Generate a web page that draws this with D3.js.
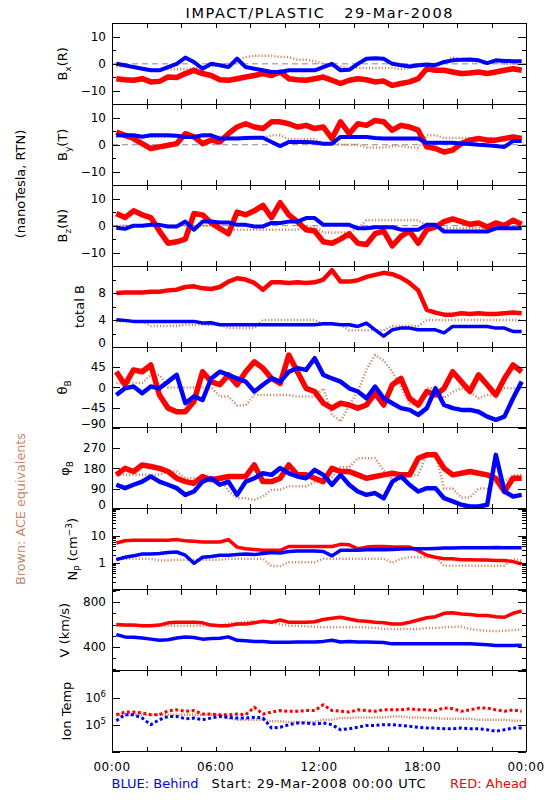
<!DOCTYPE html>
<html><head><meta charset="utf-8">
<script src="https://cdn.jsdelivr.net/npm/d3@7"></script>
<style>
body{margin:0;background:#fff}
svg{display:block}
text{font-family:"DejaVu Sans",sans-serif}
</style>
</head><body>
<svg id="c" width="550" height="800"></svg>
<script>
// ---------- data (30-minute bins) ----------
const hours = [0.25,0.75,1.25,1.75,2.25,2.75,3.25,3.75,4.25,4.75,5.25,5.75,6.25,6.75,7.25,7.75,8.25,8.75,9.25,9.75,10.25,10.75,11.25,11.75,12.25,12.75,13.25,13.75,14.25,14.75,15.25,15.75,16.25,16.75,17.25,17.75,18.25,18.75,19.25,19.75,20.25,20.75,21.25,21.75,22.25,22.75,23.25,23.75];

const xTickHours = [0,6,12,18,24];
const xTickLabels = ["00:00","06:00","12:00","18:00","00:00"];
const xMinorHours = [2,4,8,10,14,16,20,22];

// B_x (R), nT
const bxAhead  = [-5.5,-5.9,-6.1,-5.5,-6.7,-6.5,-4.9,-5.1,-3.6,-2.4,-3.6,-4.3,-5.9,-6.1,-5.5,-4.9,-4.3,-3.6,-4.3,-3,-5.5,-5.9,-6.1,-5.5,-4.9,-6.1,-7.3,-6.1,-5.5,-5.9,-6.7,-6.4,-8,-7.3,-6.7,-5.5,-1.8,-2.4,-2.4,-3,-3.6,-3.4,-3,-3.6,-3,-2.4,-1.8,-2.4];
const bxBehind = [0,-0.5,-1.2,-1.8,-2.4,-2.4,-1.2,0,2.3,0.7,-1.8,0,-0.5,-1.2,1.9,-1.2,-1.8,-2.4,-3,-3,-2.4,-2.4,-2.4,-2.4,-1.2,0,-2.4,-2.2,0,1.9,2.1,1.9,0,-0.5,-1,-0.5,-0.2,-0.5,0.7,1.3,1.5,1.6,1.3,0.3,1.3,1.1,1,1];
const bxACE    = [-1,-1,-1.5,-1.5,-2,-2,-2,-2,-2,-1.5,-1,-1,-0.5,0,1.5,2.5,3,3,3,2.5,2.5,1.5,1.5,1,0,-0.5,-1,-1.5,-1.5,-1.5,-1.5,-1.5,-1.5,-2,-1.5,-1,-0.5,0,0.5,2.5,1.5,1,1,0.5,0.5,0,0,0];
// B_y (T)
const byAhead  = [4.7,3.5,2.3,0.4,-1.4,-0.8,-0.2,0.4,4.1,2.9,0.4,1.7,1,4.1,6.6,7.8,6.6,6,8.5,8.5,7.8,6.6,7.2,6,6.6,2.3,8.5,4.1,7.8,7.2,9,8.5,5.4,7.2,6.6,5.4,-0.8,-1.4,-2.7,-2,0.4,1.7,2.3,1.7,1.7,2.3,2.9,2.3];
const byBehind = [3.5,3.5,3.5,3,3.5,3.5,3.5,3.3,2.9,2.9,3.5,3.5,2.3,2.3,2.3,2.5,2.6,2.6,1,-0.5,1,1,1,0.8,0.4,0.4,2.9,2.9,2.9,2.9,2.5,2.3,2.3,2.3,2.3,2.3,0.7,0.7,0.7,0.7,0.5,0.3,0,-0.2,-0.5,-0.8,1.4,1.4];
const byACE    = [3,3,3,3,3,3,3,3,3,3,3,3,3,3,2.5,2.5,2.5,2.5,3.5,3.5,2,2,2,2,0.5,0.5,0,0,0,-1,-1,-1,-0.5,-0.5,-1,-1,3.5,3.5,2.5,2.5,2.5,2.5,2.5,2.5,2.5,2.5,2.5,2.5];
// B_z (N)
const bzAhead  = [4.5,3,5.5,4,3,-2,-6.5,-6,-5,4.5,4,1,-1,-3,5,4,5.5,7.5,3,8.5,4,1.5,-1.5,-2,-6,-6.5,-5,-3,-6.5,-7,-3,-2,-7.5,-4,-2,-6.5,-1.5,-0.5,1.5,2.5,1.5,0.5,1,-0.5,1,0,2,0.5];
const bzBehind = [-0.8,-1.2,0,0,0.3,0.3,-0.3,-0.3,1.5,-1.5,1.5,1.5,1.2,1.2,0.3,0.3,-0.3,-0.3,1,1,1.5,1.5,2.8,2.8,0.3,0.3,0.3,0.3,-1,-1,-0.6,-0.6,-0.6,-1.5,-1.5,-1.5,0.3,0.3,-2.2,-2.2,-2.2,-2.2,-2.2,-2.2,-1,-1,-1,-1];
const bzACE    = [0,0,0,0,0,0,0,0,0,0,0,0,-1.5,-1.5,-1.5,-1.5,-1.5,-1.5,-1.5,-1.5,-1.5,-1.5,-0.5,-0.5,-2.5,-2.5,-2.5,-2.5,-1,2,2,2,2,2,2,2,0,0,-1,-1,-1,-1,-1,-1,-1,-1,-1,-1];
// total B
const btAhead  = [8,8.1,8.1,8.1,8.2,8.2,8.4,8.5,8.9,9,8.7,8.6,8.9,9.7,10.2,10,9.5,8.5,9.6,9.6,9.5,9.6,9.5,9.6,10,11.4,9.7,9.7,9.9,10.4,10.7,11,10.8,10.3,9.5,8.4,5.5,5.1,4.8,4.8,5,4.9,5,4.9,4.9,5,5.1,5];
const btBehind = [4.05,3.95,3.8,3.8,3.8,3.8,3.8,3.8,3.8,3.8,3.55,3.6,3.3,3.3,3.3,3.3,3.3,3.3,3.3,3.3,3.3,3.3,3.3,3.3,3.45,3.45,3.3,3.3,3.05,3.55,2.55,1.6,2.55,2.8,2.8,2.55,2.55,2.55,2.1,3.05,3.05,3.05,3.05,3.05,2.8,2.8,2.3,2.3];
const btACE    = [3.8,3.8,3.8,3.8,3.1,3.1,3.1,3.1,3.3,3.3,3.3,3.3,3.3,2.8,2.8,2.8,2.8,4,4,4,4,4,4,4,3.3,3.3,3.3,2.5,2.5,2.5,2.5,2.5,3.1,3.1,3.1,3.1,4,4,4,4,4,4,4,4,4,4,4,4];
// theta_B, deg
const thAhead  = [35,6,39,35,50,-17,-46,-54,-54,-31,35,13,6,28,6,35,57,43,20,9,72,35,-2,-9,-35,-46,-35,-39,-46,-39,-13,-39,6,20,-24,-39,-9,-17,-2,35,13,-9,28,6,-17,20,50,35];
const thBehind = [-17,-2,2,-13,2,-2,13,28,-35,-20,-28,20,35,28,20,13,-9,6,20,13,35,43,39,65,28,20,13,-2,-9,-24,2,-24,-35,-46,-50,-61,-46,-2,-39,-46,-50,-50,-54,-65,-72,-65,-24,13];
const thACE    = [10,10,10,10,28,28,0,0,0,0,0,0,-20,-20,-40,-40,-17,-17,-17,-17,-17,-20,-20,-20,-2,-60,-76,-40,-9,40,72,60,35,0,-35,-40,-2,-2,-24,-10,-2,-10,-24,-17,-17,-2,-2,-2];
// phi_B, deg
const phAhead  = [151,180,166,195,188,180,166,136,121,114,144,129,136,144,144,144,195,121,121,136,195,151,151,136,121,180,166,166,151,136,144,151,158,151,151,225,240,240,180,151,158,166,158,151,136,77,136,136];
const phBehind = [107,92,107,121,144,121,107,92,62,77,121,136,107,121,62,121,136,158,151,181,158,144,136,173,151,107,151,107,77,62,70,47,121,144,107,77,92,92,47,33,18,10,10,18,240,77,55,62];
const phACE    = [151,151,151,151,151,151,166,166,136,136,136,136,136,80,47,47,40,55,85,85,100,100,100,120,120,140,185,185,225,225,225,170,130,130,150,150,245,245,90,90,50,50,90,90,120,120,150,150];
// N_p, cm^-3
const npAhead  = [5.4,6.5,6.8,6.8,6.8,6.8,6.8,7.2,6.5,6.2,5.9,5.9,5.9,7.2,3.8,3.3,3.1,2.9,2.9,2.9,4,4,4,4,4,4,4.8,4.6,3.3,3.8,4,4,3.8,3.8,3.8,2.8,1.9,1.6,1.4,1.4,1.3,1.3,1.25,1.25,1.2,1.2,1.1,0.9];
const npBehind = [1.3,1.6,1.8,2.1,2.1,2.2,2.4,2.5,1.9,0.95,1.6,1.7,1.9,1.9,2.0,2.1,2.0,2.2,2.4,2.3,2.6,2.7,2.7,2.7,2.6,1.8,2.9,2.9,2.9,3.0,3.0,3.0,3.1,3.2,3.3,3.3,3.3,3.4,3.5,3.5,3.6,3.6,3.6,3.6,3.7,3.6,3.6,3.6];
const npACE    = [1.4,1.4,1.4,1.4,1.4,1.22,1.22,1.3,1.3,1.3,1.3,1.3,1.3,1.4,1.4,1.4,1.4,1.4,0.75,0.75,1.05,1.05,1.05,1.05,1.4,1.4,1.4,1.4,1.4,1.4,1.4,1.4,1.0,1.4,1.6,1.6,1.6,1.6,0.78,0.78,0.78,0.78,0.78,0.78,0.78,0.78,1.4,1.2];
// V, km/s
const vAhead   = [600,595,595,590,590,595,615,620,620,620,615,595,590,590,605,605,615,630,620,640,620,620,620,625,645,655,665,650,634,630,620,615,605,605,620,640,660,670,700,705,694,690,680,680,670,665,700,720];
const vBehind  = [510,490,486,480,470,460,465,480,490,485,470,475,478,490,460,455,450,450,443,443,443,445,445,445,450,460,445,450,445,445,442,440,428,428,428,430,428,428,428,428,430,428,425,420,413,413,413,415];
const vACE     = [590,590,590,590,590,590,590,590,590,590,590,590,590,610,615,625,630,630,625,600,590,590,585,580,575,575,575,575,575,575,570,560,560,560,560,560,570,570,575,580,580,560,550,545,540,545,550,555];
// Ion temperature, K
const tAhead   = [2.3e5,2.9e5,2.9e5,2.7e5,2.3e5,2.3e5,3.2e5,3.5e5,3.1e5,3.3e5,2.45e5,2.45e5,2.3e5,2.3e5,2.45e5,2.3e5,4.4e5,2.45e5,2.9e5,3.3e5,3.1e5,3.1e5,3.3e5,3.3e5,5.4e5,3.3e5,3.1e5,2.9e5,3.5e5,3.3e5,3.1e5,3.5e5,3.5e5,3.5e5,3.85e5,3.5e5,3.5e5,3.3e5,4.1e5,3.85e5,3.1e5,3.5e5,4.1e5,4.1e5,3.5e5,3.1e5,3.5e5,3.1e5];
const tBehind  = [1.39e5,2.31e5,2.31e5,1.74e5,0.99e5,1.51e5,2.0e5,2.0e5,1.64e5,1.74e5,1.51e5,1.74e5,2.0e5,1.84e5,1.74e5,1.74e5,1.84e5,1.74e5,0.74e5,0.79e5,0.99e5,1.14e5,1.14e5,1.04e5,1.14e5,0.99e5,0.64e5,0.70e5,0.79e5,0.93e5,0.93e5,0.99e5,0.99e5,0.93e5,0.86e5,0.79e5,0.74e5,0.74e5,0.70e5,0.70e5,0.74e5,0.70e5,0.70e5,0.64e5,0.56e5,0.64e5,0.74e5,0.74e5];
const tACE     = [2.3e5,2.3e5,2.3e5,2.3e5,2.3e5,2.3e5,2.3e5,2.3e5,2.3e5,2.3e5,2.3e5,2.3e5,2.3e5,1.74e5,1.51e5,1.51e5,1.51e5,1.51e5,1.31e5,1.31e5,1.24e5,1.24e5,1.24e5,1.24e5,1.51e5,1.51e5,1.74e5,1.74e5,1.84e5,1.84e5,1.84e5,1.84e5,2.0e5,2.0e5,1.84e5,1.84e5,1.74e5,1.74e5,1.64e5,1.64e5,1.64e5,1.64e5,1.51e5,1.51e5,1.51e5,1.51e5,1.39e5,1.39e5];

// ---------- layout & style ----------
const COL = {ace:"#cc8866", ahead:"#ff0000", behind:"#0000ff"};
const L = 112, R = 526, TOP = 23.4, PH = 80.9;
const svg = d3.select("#c");
const x = d3.scaleLinear().domain([0,24]).range([L,R]);
const neg = v => (v < 0 ? "\u2212" + Math.abs(v) : String(v));

// per series style: [width, dasharray] for ACE, Ahead, Behind
const stB   = [[2.5,"1.2,2"],[5.5,null],[4,null]];
const stBt  = [[2.5,"1.2,2"],[4.5,null],[3.5,null]];
const stAng = [[2.5,"1.2,2"],[5.5,null],[4.5,null]];
const stNp  = [[2.5,"1.2,2"],[3.5,null],[3.5,null]];
const stT   = [[2.5,"1.2,1.5"],[3,"3,2.5"],[3,"3,2.5"]];

const panels = [
  {title:[["B"],["x","sub"],["(R)"]], type:"lin", dom:[-15,15], major:[-15,-10,0,10,15], minor:[-5,5], labels:[-10,0,10], zero:true, s:[bxACE,bxAhead,bxBehind], st:stB},
  {title:[["B"],["y","sub"],["(T)"]], type:"lin", dom:[-15,15], major:[-15,-10,0,10,15], minor:[-5,5], labels:[-10,0,10], zero:true, s:[byACE,byAhead,byBehind], st:stB},
  {title:[["B"],["z","sub"],["(N)"]], type:"lin", dom:[-15,15], major:[-15,-10,0,10,15], minor:[-5,5], labels:[-10,0,10], zero:true, s:[bzACE,bzAhead,bzBehind], st:stB},
  {title:[["total B"]], type:"lin", dom:[0,12], major:[0,4,8,12], minor:[2,6,10], labels:[0,4,8], s:[btACE,btAhead,btBehind], st:stBt},
  {title:[["\u03b8"],["B","sub"]], type:"lin", dom:[-90,90], major:[-90,-45,0,45,90], minor:[], labels:[-90,-45,0,45], s:[thACE,thAhead,thBehind], st:stAng},
  {title:[["\u03c6"],["B","sub"]], type:"lin", dom:[0,360], major:[0,90,180,270,360], minor:[], labels:[0,90,180,270], s:[phACE,phAhead,phBehind], st:stAng},
  {title:[["N"],["P","sub"],[" (cm"],["\u22123","sup"],[")"]], type:"log", dom:[0.1,100], major:[0.1,1,10,100], minor:[0.2,0.3,0.4,0.5,0.6,0.7,0.8,0.9,2,3,4,5,6,7,8,9,20,30,40,50,60,70,80,90], labels:[1,10], s:[npACE,npAhead,npBehind], st:stNp},
  {title:[["V (km/s)"]], type:"lin", dom:[190,910], major:[400,800], minor:[200,300,500,600,700,900], labels:[400,800], s:[vACE,vAhead,vBehind], st:stNp},
  {title:[["Ion Temp"]], type:"log", dom:[1e4,1e7], major:[1e4,1e5,1e6,1e7], minor:[], labels:[1e5,1e6], sci:true, s:[tACE,tAhead,tBehind], st:stT}
];

const defs = svg.append("defs");

panels.forEach((p, i) => {
  const top = TOP + i*PH, bot = top + PH;
  const y = (p.type === "log" ? d3.scaleLog() : d3.scaleLinear()).domain(p.dom).range([bot, top]);
  const g = svg.append("g");

  defs.append("clipPath").attr("id","clip"+i)
    .append("rect").attr("x",L).attr("y",top).attr("width",R-L).attr("height",PH);

  const plot = g.append("g").attr("clip-path","url(#clip"+i+")");
  if (p.zero) {
    plot.append("line").attr("x1",L).attr("x2",R).attr("y1",y(0)).attr("y2",y(0))
      .attr("stroke","#888").attr("stroke-width",1).attr("stroke-dasharray","6,4");
  }
  const cols = [COL.ace, COL.ahead, COL.behind];
  p.s.forEach((vals, k) => {
    const pts = hours.map((h, j) => [h, vals[j]]);
    const line = d3.line().x(d => x(d[0])).y(d => y(d[1]));
    plot.append("path").attr("d", line(pts)).attr("fill","none")
      .attr("stroke", cols[k]).attr("stroke-width", p.st[k][0])
      .attr("stroke-linejoin","round")
      .attr("stroke-dasharray", p.st[k][1]);
  });

  // axes ticks (inward)
  const ax = g.append("g").attr("shape-rendering","crispEdges");
  const addAxis = (axis, tx, ty) => {
    const a = ax.append("g").attr("transform",`translate(${tx},${ty})`).call(axis);
    a.select(".domain").remove();
    a.selectAll("text").remove();
    a.selectAll("line").attr("stroke","#000");
  };
  addAxis(d3.axisLeft(y).tickValues(p.major).tickSize(-8).tickFormat(""), L, 0);
  addAxis(d3.axisRight(y).tickValues(p.major).tickSize(-8).tickFormat(""), R, 0);
  if (p.minor.length) {
    addAxis(d3.axisLeft(y).tickValues(p.minor).tickSize(-4).tickFormat(""), L, 0);
    addAxis(d3.axisRight(y).tickValues(p.minor).tickSize(-4).tickFormat(""), R, 0);
  }
  const xt = xTickHours.concat(xMinorHours);
  addAxis(d3.axisTop(x).tickValues(xt).tickSize(-5).tickFormat(""), 0, top);
  addAxis(d3.axisBottom(x).tickValues(xt).tickSize(-5).tickFormat(""), 0, bot);

  g.append("rect").attr("x",L).attr("y",top).attr("width",R-L).attr("height",PH)
    .attr("fill","none").attr("stroke","#000").attr("stroke-width",1).attr("shape-rendering","crispEdges");

  // tick labels
  let maxW = 0;
  p.labels.forEach(v => {
    const yy = Math.max(Math.min(y(v), bot - 4), top + 4);
    const t = g.append("text").attr("x", L - 6).attr("y", yy).attr("dy","0.35em")
      .attr("text-anchor","end").attr("font-size",12);
    if (p.sci) {
      t.append("tspan").text("10");
      t.append("tspan").text(String(Math.round(Math.log10(v)))).attr("font-size",8.5).attr("dy",-5);
    } else {
      t.text(neg(v));
    }
    maxW = Math.max(maxW, t.node().getBBox().width);
  });

  // y title (rotated)
  const bx = L - 6 - maxW - 14, by = (top + bot) / 2;
  const tt = g.append("text").attr("transform",`translate(${bx},${by}) rotate(-90)`)
    .attr("text-anchor","middle").attr("font-size",13);
  let shift = 0;
  p.title.forEach(([s, mode]) => {
    const sp = tt.append("tspan").text(s).style("white-space","pre");
    let target = mode === "sub" ? 4 : mode === "sup" ? -5 : 0;
    if (target !== shift) { sp.attr("dy", target - shift); shift = target; }
    if (mode) sp.attr("font-size", 9);
  });
});

// x tick labels
const lastBot = TOP + 9*PH;
xTickHours.forEach((h, i) => {
  svg.append("text").attr("x", x(h)).attr("y", lastBot + 19).attr("text-anchor","middle")
    .attr("font-size",12).attr("letter-spacing",0.5).text(xTickLabels[i]);
});

// title
svg.append("text").attr("x",(L+R)/2).attr("y",17.5).attr("text-anchor","middle")
  .attr("font-size",14.5).style("white-space","pre")
  .attr("textLength",267).attr("lengthAdjust","spacing")
  .text("IMPACT/PLASTIC   29-Mar-2008");

// left side labels
svg.append("text").attr("transform","translate(25,184) rotate(-90)").attr("text-anchor","middle")
  .attr("font-size",13).text("(nanoTesla, RTN)");
svg.append("text").attr("transform","translate(25,509) rotate(-90)").attr("text-anchor","middle")
  .attr("font-size",13).attr("fill",COL.ace).attr("textLength",152).attr("lengthAdjust","spacingAndGlyphs")
  .text("Brown: ACE equivalents");

// bottom legend
svg.append("text").attr("x",111.5).attr("y",788).attr("font-size",13).attr("fill",COL.behind).text("BLUE: Behind");
svg.append("text").attr("x",211.5).attr("y",788).attr("font-size",13).attr("textLength",214).attr("lengthAdjust","spacing")
  .style("white-space","pre").text("Start: 29-Mar-2008 00:00 UTC");
svg.append("text").attr("x",450).attr("y",788).attr("font-size",13).attr("fill",COL.ahead).text("RED: Ahead");
</script>
</body></html>
